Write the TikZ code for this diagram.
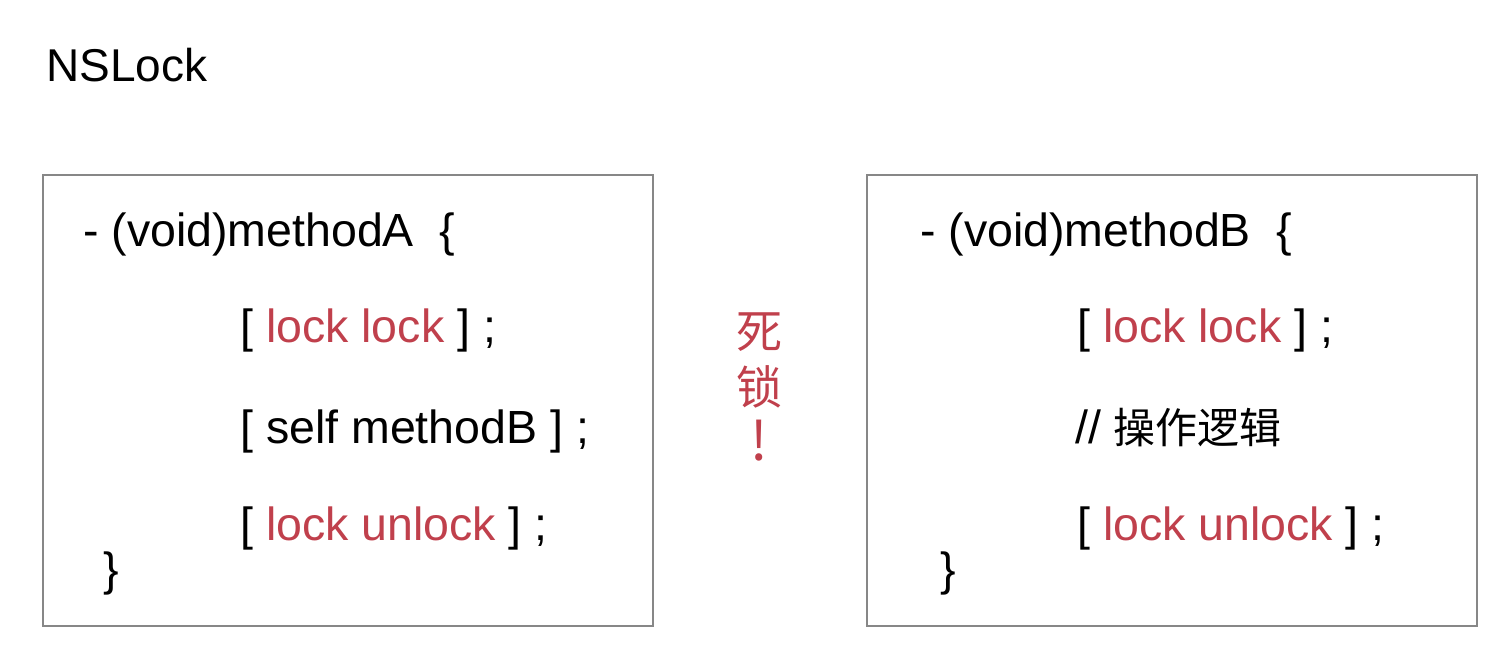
\documentclass[tikz,border=0pt]{standalone}
\usepackage{fontspec}
\setmainfont{Liberation Sans}
\newfontfamily\cjk{Noto Sans CJK SC}
\definecolor{lockred}{RGB}{192,64,76}
\definecolor{boxgray}{RGB}{135,135,135}
\begin{document}
\begin{tikzpicture}[x=1pt, y=-1pt,
    codebox/.style={draw=boxgray, line width=2pt, anchor=north west,
      minimum width=610pt, minimum height=451pt},
    code/.style={anchor=base west, inner sep=0pt, font=\fontsize{46.5}{54}\selectfont}]
  \useasboundingbox (0,0) rectangle (1510,646);

  % Title
  \node[anchor=base west, inner sep=0pt, font=\fontsize{46}{54}\selectfont] (title) at (46,81) {NSLock};

  % Boxes
  \node[codebox] (boxA) at (42,174) {};
  \node[codebox] (boxB) at (866,174) {};

  % methodA
  \node[code] (a-head) at (83,246) {- (void)methodA\ \ \{};
  \node[code] (a-lock) at (240,342) {[ \textcolor{lockred}{lock lock} ] ;};
  \node[code] (a-call) at (240,443) {[ self methodB ] ;};
  \node[code] (a-unlock) at (240,540) {[ \textcolor{lockred}{lock unlock} ] ;};
  \node[code] (a-end) at (103,585) {\}};

  % methodB
  \node[code] (b-head) at (920,246) {- (void)methodB\ \ \{};
  \node[code] (b-lock) at (1077,342) {[ \textcolor{lockred}{lock lock} ] ;};
  \node[code] (b-logic) at (1075,443) {// {\cjk\fontsize{42}{50}\selectfont 操作逻辑}};
  \node[code] (b-unlock) at (1077,540) {[ \textcolor{lockred}{lock unlock} ] ;};
  \node[code] (b-end) at (940,585) {\}};

  % Deadlock
  \node[align=center, text=lockred, inner sep=0pt,
    font=\cjk\fontsize{46}{56}\selectfont] (dead) at (759,387)
    {死\\锁\\{\fontsize{54}{56}\selectfont !}};
\end{tikzpicture}
\end{document}
